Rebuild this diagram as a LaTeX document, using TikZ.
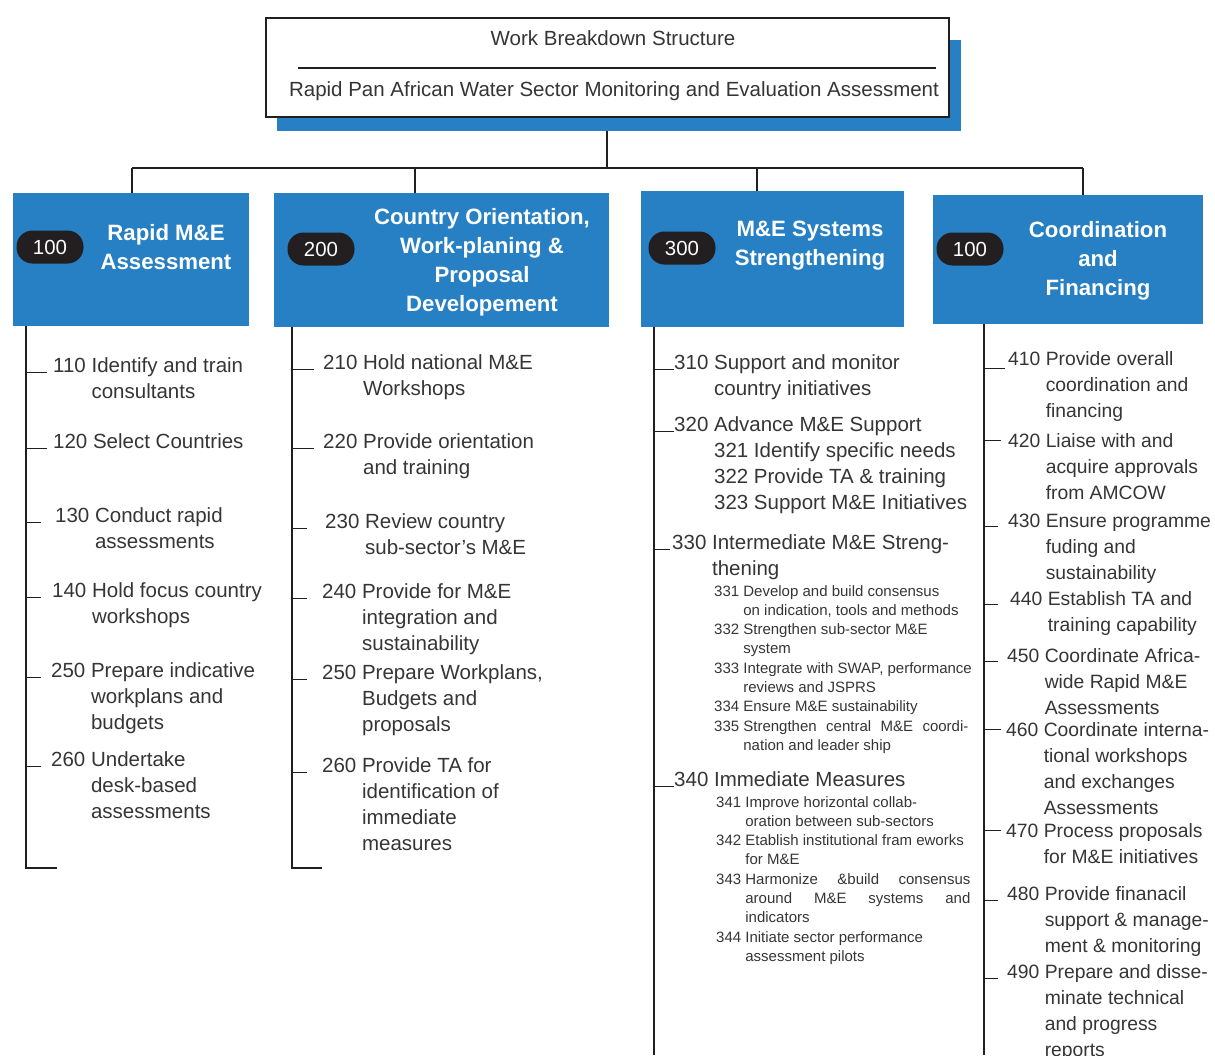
\documentclass[tikz,border=0pt]{standalone}
\usepackage{fontspec}
\setmainfont{Liberation Sans}
\usepackage{xcolor}
\usepackage{tikz}
\usetikzlibrary{calc}
\definecolor{wbsblue}{HTML}{2680C3}
\definecolor{pill}{HTML}{231F20}
\definecolor{ink}{HTML}{353535}
\definecolor{rule}{HTML}{231F20}

\newcommand{\wbs}[2]{\begin{tabular}[t]{@{}l@{\ }l@{}}#1 & #2\end{tabular}}

\tikzset{
  item/.style={anchor=base west, inner sep=0pt, text=ink, font=\fontsize{20.5}{26}\selectfont},
  nitem/.style={item, font=\fontsize{19.3}{26}\selectfont},
  subitem/.style={item, font=\fontsize{15}{19.3}\selectfont},
  phase/.style={fill=wbsblue, anchor=north west, inner sep=0pt},
  badge/.style={fill=pill, text=white, rounded corners=16pt, minimum width=67pt, minimum height=33pt, inner sep=0pt, font=\fontsize{20.4}{24}\selectfont},
  title/.style={text=white, align=center, inner sep=0pt, font=\bfseries\fontsize{22.2}{29}\selectfont},
  link/.style={draw=rule, line width=1.3pt},
  spine/.style={draw=rule, line width=2.2pt},
  tick/.style={draw=rule, line width=1pt},
}

\begin{document}
\begin{tikzpicture}[x=1pt,y=-1pt]
  \useasboundingbox (0,0) rectangle (1215,1055);

  % heading
  \node[fill=wbsblue, anchor=north west, minimum width=684pt, minimum height=91pt] (shade) at (277,40) {};
  \node[draw=rule, line width=2pt, fill=white, anchor=north west, minimum width=683pt, minimum height=99pt] (head) at (265,17) {};
  \node[item, anchor=base] (wbstitle) at (613,45) {Work Breakdown Structure};
  \node[item, anchor=base] (project) at (614,96) {Rapid Pan African Water Sector Monitoring and Evaluation Assessment};
  \draw[draw=rule, line width=2.5pt] (298,68) -- (936,68);

  % phases
  \node[phase, minimum width=236pt, minimum height=133pt] (p100) at (13,193) {};
  \node[phase, minimum width=335pt, minimum height=134pt] (p200) at (274,193) {};
  \node[phase, minimum width=263pt, minimum height=136pt] (p300) at (641,191) {};
  \node[phase, minimum width=270pt, minimum height=129pt] (p400) at (933,195) {};

  \node[badge] (k100) at (50,247) {100};
  \node[badge] (k200) at (321,249) {200};
  \node[badge] (k300) at (682,248) {300};
  \node[badge] (k400) at (970,249) {100};

  \node[title] (h100) at (166,247.5) {Rapid M\&E\\Assessment};
  \node[title] (h200) at (482,262.5) {Country Orientation,\\Work-planing \&\\Proposal\\Developement};
  \node[title] (h300) at (810,245.5) {M\&E Systems\\Strengthening};
  \node[title] (h400) at (1098,261) {Coordination\\and\\Financing};

  % tree
  \coordinate (bus) at (607,168);
  \draw[link] (bus |- shade.south) -- (bus);
  \foreach \x/\p [count=\i] in {132/p100,415/p200,757/p300,1083/p400} {
    \coordinate (j\i) at (\x,168);
    \draw[link] (j\i) -- (j\i |- \p.north);
  }
  \draw[link] (j1) -- (j4);

  % column 100
  \coordinate (s1) at (26,868);
  \draw[spine] (s1 |- p100.south) -- (s1) -- ++(31,0);
  \node[item] (a1) at (53,372) {\wbs{110}{Identify and train\\ & consultants}};
  \node[item] (a2) at (53,448) {\wbs{120}{Select Countries}};
  \node[item] (a3) at (55,522) {\wbs{130}{Conduct rapid\\ & assessments}};
  \node[item] (a4) at (52,597) {\wbs{140}{Hold focus country\\ & workshops}};
  \node[item] (a5) at (51,677) {\wbs{250}{Prepare indicative\\ & workplans and\\ & budgets}};
  \node[item] (a6) at (51,766) {\wbs{260}{Undertake\\ & desk-based\\ & assessments}};
  \foreach \k/\l in {1/21,2/21,3/15,4/15,5/15,6/15}
    \draw[tick] (s1 |- a\k.base) -- ++(\l,0);

  % column 200
  \coordinate (s2) at (292,868);
  \draw[spine] (s2 |- p200.south) -- (s2) -- ++(30,0);
  \node[item] (b1) at (323,369) {\wbs{210}{Hold national M\&E\\ & Workshops}};
  \node[item] (b2) at (323,448) {\wbs{220}{Provide orientation\\ & and training}};
  \node[item] (b3) at (325,528) {\wbs{230}{Review country\\ & sub-sector’s M\&E}};
  \node[item] (b4) at (322,598) {\wbs{240}{Provide for M\&E\\ & integration and\\ & sustainability}};
  \node[item] (b5) at (322,679) {\wbs{250}{Prepare Workplans,\\ & Budgets and\\ & proposals}};
  \node[item] (b6) at (322,772) {\wbs{260}{Provide TA for\\ & identification of\\ & immediate\\ & measures}};
  \foreach \k/\l in {1/22,2/22,3/15,4/15,5/15,6/15}
    \draw[tick] (s2 |- b\k.base) -- ++(\l,0);

  % column 300
  \coordinate (s3) at (654,1055);
  \draw[spine] (s3 |- p300.south) -- (s3);
  \node[item] (c1) at (674,369) {\wbs{310}{Support and monitor\\ & country initiatives}};
  \node[item] (c2) at (674,431) {\wbs{320}{Advance M\&E Support\\ & 321 Identify specific needs\\ & 322 Provide TA \& training\\ & 323 Support M\&E Initiatives}};
  \node[item] (c3) at (672,549) {\wbs{330}{Intermediate M\&E Streng-\\ & thening}};
  \node[subitem] (e1) at (714,596) {\wbs{331}{Develop and build consensus\\ & on indication, tools and methods\\
    332 & Strengthen sub-sector M\&E\\ & system\\
    333 & Integrate with SWAP, performance\\ & reviews and JSPRS\\
    334 & Ensure M\&E sustainability\\
    335 & \makebox[225pt][s]{Strengthen central M\&E coordi-}\\ & nation and leader ship}};
  \node[item] (c4) at (674,786) {\wbs{340}{Immediate Measures}};
  \node[subitem] (e2) at (716,807) {\wbs{341}{Improve horizontal collab-\\ & oration between sub-sectors\\
    342 & Etablish institutional fram eworks\\ & for M\&E\\
    343 & \makebox[225pt][s]{Harmonize \&build consensus}\\ & \makebox[225pt][s]{around M\&E systems and}\\ & indicators\\
    344 & Initiate sector performance\\ & assessment pilots}};
  \foreach \k/\l in {1/20,2/20,3/16,4/20}
    \draw[tick] (s3 |- c\k.base) -- ++(\l,0);

  % column 400
  \coordinate (s4) at (984,1055);
  \draw[spine] (s4 |- p400.south) -- (s4);
  \node[nitem] (d1) at (1008,365) {\wbs{410}{Provide overall\\ & coordination and\\ & financing}};
  \node[nitem] (d2) at (1008,447) {\wbs{420}{Liaise with and\\ & acquire approvals\\ & from AMCOW}};
  \node[nitem] (d3) at (1008,527) {\wbs{430}{Ensure programme\\ & fuding and\\ & sustainability}};
  \node[nitem] (d4) at (1010,605) {\wbs{440}{Establish TA and\\ & training capability}};
  \node[nitem] (d5) at (1007,662) {\wbs{450}{Coordinate Africa-\\ & wide Rapid M\&E\\ & Assessments}};
  \node[nitem] (d6) at (1006,736) {\wbs{460}{Coordinate interna-\\ & tional workshops\\ & and exchanges\\ & Assessments}};
  \node[nitem] (d7) at (1006,837) {\wbs{470}{Process proposals\\ & for M\&E initiatives}};
  \node[nitem] (d8) at (1007,900) {\wbs{480}{Provide finanacil\\ & support \& manage-\\ & ment \& monitoring}};
  \node[nitem] (d9) at (1007,978) {\wbs{490}{Prepare and disse-\\ & minate technical\\ & and progress\\ & reports}};
  \foreach \k/\dy/\l in {1/3/21,2/-7/17,3/-1/14,4/-1/14,5/-1/14,6/-7/17,7/-7/17,8/0/14,9/0/14}
    \draw[tick] ($(s4 |- d\k.base)+(0,\dy)$) -- ++(\l,0);
\end{tikzpicture}
\end{document}
